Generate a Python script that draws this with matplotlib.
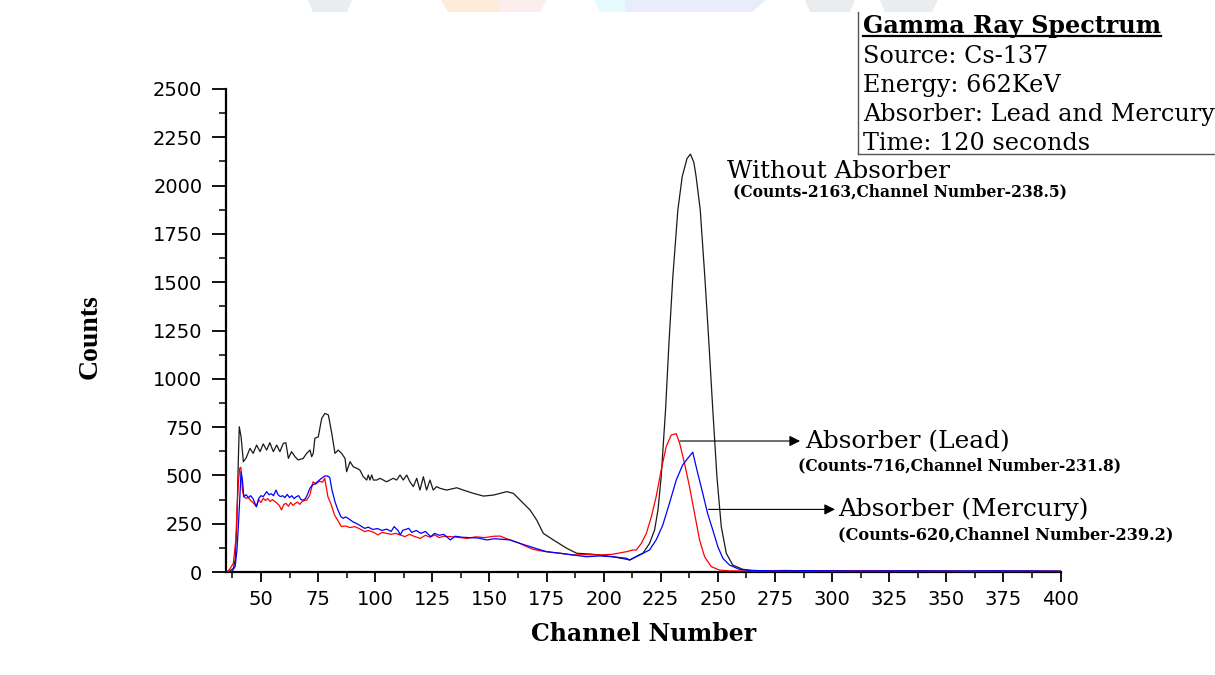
import matplotlib
matplotlib.use("Agg")
import matplotlib.pyplot as plt
from matplotlib.lines import Line2D
from matplotlib.patches import Polygon
from matplotlib.ticker import MultipleLocator

# ---------------- data ----------------
ch_black = [35, 36, 37.9, 38.7, 39.4, 40.1, 40.5, 41.3, 42.3, 43.5, 45.2, 46.6, 48.1, 49.6, 51, 52.5,
            53.9, 55.4, 56.9, 58.3, 59.8, 60.9, 62, 63.4, 64.9, 66.3, 68.5, 70, 71.5, 72.2, 72.9,
            73.6, 75.1, 76.6, 78, 79.5, 81, 82.4, 83.8, 85.3, 86.8, 87.5, 89, 90.4, 91.9, 93.3,
            94.8, 96.3, 97, 97.7, 98.5, 99.2, 100.7, 102.1, 103.5, 105, 107.9, 109.4, 110.9, 112.3,
            113.8, 115.2, 116.7, 118.2, 119.6, 121.1, 122.5, 124, 125.4, 126.9, 128.4, 131.3,
            135.7, 138.6, 143, 147.4, 151.7, 157.6, 160.5, 163.4, 167.8, 170.7, 173.6, 178,
            183.8, 188.2, 194, 198.4, 204, 210, 211.4, 215.8, 217.2, 220.1, 222.3, 223.8, 225.2,
            227.1, 228.6, 230.3, 232.5, 234.4, 236.5, 238, 239.5, 240.5, 242.3, 244.3, 246.1,
            247.8, 249.6, 251.5, 253.7, 256.5, 260.9, 265, 270, 280, 290, 300, 310, 320, 330,
            340, 350, 360, 370, 380, 390, 400]
cnt_black = [0, 2, 19, 62, 235, 580, 752, 700, 571, 590, 640, 614, 657, 623, 663, 631,
             669, 623, 657, 623, 666, 669, 588, 623, 597, 580, 588, 614, 631, 597, 614,
             692, 700, 795, 821, 813, 718, 614, 631, 614, 588, 519, 571, 545, 537, 528,
             493, 476, 502, 476, 502, 476, 476, 485, 476, 467, 485, 476, 502, 476,
             502, 467, 442, 485, 424, 493, 424, 476, 424, 442, 433, 424,
             436, 424, 407, 393, 398, 416, 407, 373, 321, 269, 200, 166,
             123, 97, 93, 88, 79, 66, 62, 90, 97, 148, 217, 321, 493,
             838, 1184, 1528, 1874, 2046, 2140, 2163, 2120, 2046, 1874, 1528, 1184,
             838, 493, 235, 97, 36, 14, 8, 6, 8, 5, 7, 6, 5, 6,
             6, 5, 4, 6, 5, 5, 4]

ch_lead = [35, 36.3, 37.9, 39, 39.5, 40.1, 40.7, 41.2, 41.9, 42.5, 43.5, 44.5, 45.5, 46.5, 48,
           49, 50, 51, 52, 53, 54, 55, 56.6, 58, 59, 60, 61, 62, 63, 64, 65, 66, 67, 68, 69,
           70, 71.4, 72.8, 74, 75.5, 77, 77.9, 79.3, 80.8, 82.2, 83.5, 85.2, 87, 89, 91, 93,
           95.4, 97, 99.4, 101.2, 103, 105, 107, 109, 111, 113, 115, 117, 119.7, 122, 124,
           126, 128, 130, 132.9, 136, 140.2, 144, 148, 151.8, 154.7, 157, 160.5, 163, 166.3,
           169, 172, 175.1, 180.9, 186.7, 192, 198.3, 204, 210, 212.9, 214.3, 216.5, 218.7,
           220.9, 223, 225.2, 227.4, 229.6, 231.8, 233.3, 235.4, 237.6, 239.8, 242, 244.2,
           247.1, 250.7, 255, 265, 280, 300, 320, 340, 360, 380, 400]
cnt_lead = [0, 14, 45, 166, 321, 459, 537, 542, 424, 390, 381, 385, 370, 360, 338,
            375, 360, 382, 370, 380, 365, 375, 360, 345, 321, 350, 355, 340, 360, 345, 355, 362, 350, 365, 370,
            372, 398, 467, 455, 470, 465, 485, 390, 347, 295, 270, 235, 238, 230, 235, 225,
            209, 215, 205, 192, 205, 200, 195, 200, 192, 183, 195, 185, 174, 190, 180,
            192, 178, 185, 183, 180, 174, 182, 178, 185, 186, 175, 160, 150, 131,
            118, 110, 105, 97, 88, 90, 88, 92, 105, 114, 114, 148, 200,
            286, 390, 528, 649, 709, 716, 666, 563, 442, 304, 166, 79,
            28, 10, 6, 5, 6, 5, 6, 5, 4, 5, 4]

ch_merc = [35, 37.2, 38.7, 39.5, 40.1, 40.7, 41.3, 41.9, 42.5, 43.5, 44.5, 45.5, 46.5, 48, 49,
           50, 51, 52.5, 53.5, 54.5, 55.5, 56.6, 57.5, 58.5, 59.5, 60.5, 61.5, 62.5, 63.5, 64.5,
           65.5, 66.5, 67.5, 68.5, 69.5, 70.5, 71.4, 72.5, 73.5, 75, 76.5, 78, 79.1, 80.1, 81.1,
           82.5, 83.7, 85, 86, 87, 88.5, 90.2, 92, 93.5, 95.4, 97, 99, 101, 103, 105, 107,
           108.3, 110, 111, 112, 114.7, 116, 118, 120, 122, 124.3, 126, 128, 130, 132.9, 135,
           138, 141, 145, 148.9, 152, 155, 158.9, 163.4, 169.2, 175.1, 181, 186.7, 192.5, 198.3,
           204, 210, 211.4, 215.8, 220.1, 223, 225.9, 228.8, 231.8, 234.6, 236.8, 239, 241.2,
           243.4, 245.5, 247.8, 250, 252.2, 255.1, 259.4, 263.8, 275, 290, 310, 330, 350, 370,
           390, 400]
cnt_merc = [0, 2, 28, 114, 235, 373, 519, 476, 390, 400, 385, 395, 380, 338, 380,
            395, 390, 416, 400, 405, 395, 424, 400, 390, 395, 385, 402, 385, 395, 380,
            390, 395, 375, 372, 380, 405, 433, 450, 455, 470, 485, 497, 497, 490, 424,
            360, 321, 286, 278, 285, 275, 260, 250, 240, 226, 232, 220, 225, 215, 222, 210,
            235, 215, 192, 215, 226, 205, 215, 200, 210, 183, 200, 190, 195, 166, 185,
            180, 178, 176, 166, 172, 170, 166, 148, 126, 105, 97, 88, 79, 83,
            79, 71, 62, 88, 114, 166, 243, 355, 476, 554, 588, 620, 511,
            407, 304, 217, 131, 71, 36, 14, 8, 6, 7, 5, 6, 5, 6,
            5, 4]

x_ticks = [50, 75, 100, 125, 150, 175, 200, 225, 250, 275, 300, 325, 350, 375, 400]
y_ticks = [0, 250, 500, 750, 1000, 1250, 1500, 1750, 2000, 2250, 2500]

info_title = "Gamma Ray Spectrum"
info_lines = ["Source: Cs-137", "Energy: 662KeV", "Absorber: Lead and Mercury", "Time: 120 seconds"]

# annotation anchor points (data coords)
lead_arrow = ((233.4, 678), (286, 678))
merc_arrow = ((245.9, 324), (301.3, 324))

# ---------------- figure ----------------
W, H = 1215, 675
fig = plt.figure(figsize=(W / 100, H / 100), dpi=100)
fig.patch.set_facecolor("white")


def fx(x):
    return x / W


def fy(y):
    return 1 - y / H


# faint watermark remnants along the top edge
wm = [
    ([308, 352, 347, 313], "#eaedef"),
    ([441, 500, 500, 448], "#fdecd9"),
    ([500, 547, 540, 500], "#fdeeee"),
    ([594, 625, 625, 600], "#e5fbfd"),
    ([625, 766, 752, 625], "#e8ecfb"),
    ([805, 855, 850, 810], "#eaedef"),
    ([880, 938, 932, 885], "#eaedef"),
]
for xs, c in wm:
    poly = Polygon([(fx(xs[0]), fy(0)), (fx(xs[1]), fy(0)), (fx(xs[2]), fy(12)), (fx(xs[3]), fy(12))],
                   closed=True, transform=fig.transFigure, facecolor=c, edgecolor="none", zorder=0)
    fig.add_artist(poly)

ax = fig.add_axes([fx(226), 1 - 572 / H, (1060.5 - 226) / W, 483 / H])
ax.set_facecolor("none")

ax.plot(ch_black, cnt_black, color="#1a1a1a", lw=0.9, zorder=3)
ax.plot(ch_lead, cnt_lead, color="#ff0000", lw=0.9, zorder=4)
ax.plot(ch_merc, cnt_merc, color="#0000ff", lw=0.9, zorder=5)

ax.set_xlim(34.7, 400)
ax.set_ylim(0, 2500)
ax.set_xticks(x_ticks)
ax.set_yticks(y_ticks)
ax.xaxis.set_minor_locator(MultipleLocator(12.5))
ax.yaxis.set_minor_locator(MultipleLocator(125))

for s in ("top", "right"):
    ax.spines[s].set_visible(False)
for s in ("left", "bottom"):
    ax.spines[s].set_linewidth(1.6)
    ax.spines[s].set_color("black")

ax.tick_params(axis="x", which="major", length=7, width=1.3, direction="out", pad=6,
               labelsize=14, colors="black")
ax.tick_params(axis="x", which="minor", length=4, width=1.1, direction="out")
ax.tick_params(axis="y", which="major", length=10, width=1.3, direction="out", pad=7,
               labelsize=14, colors="black")
ax.tick_params(axis="y", which="minor", length=5, width=1.1, direction="out")
for lab in ax.get_xticklabels() + ax.get_yticklabels():
    lab.set_family("DejaVu Sans")

ax.set_xlabel("Channel Number", family="DejaVu Serif", fontweight="bold", fontsize=17)
ax.xaxis.set_label_coords(0.5, (572 - 641) / 483)
ax.xaxis.label.set_verticalalignment("baseline")
ax.set_ylabel("Counts", family="Liberation Serif", fontweight="bold", fontsize=20)
ax.yaxis.set_label_coords((90 - 226) / 834.5, (572 - 337) / 483)
ax.yaxis.label.set_verticalalignment("center")
ax.yaxis.label.set_horizontalalignment("center")

# annotations
serif = "DejaVu Serif"
fig.text(fx(727), fy(178), "Without Absorber", family=serif, fontsize=17.8, va="baseline")
fig.text(fx(733), fy(196), "(Counts-2163,Channel Number-238.5)", family=serif, fontweight="bold",
         fontsize=11.2, va="baseline")

arrowprops = dict(arrowstyle="-|>", color="black", lw=0.8, mutation_scale=16, shrinkA=0, shrinkB=0)
ax.annotate("", xy=lead_arrow[1], xytext=lead_arrow[0], arrowprops=arrowprops, zorder=6)
ax.annotate("", xy=merc_arrow[1], xytext=merc_arrow[0], arrowprops=arrowprops, zorder=6)

fig.text(fx(805), fy(448), "Absorber (Lead)", family=serif, fontsize=17.8, va="baseline")
fig.text(fx(798), fy(470), "(Counts-716,Channel Number-231.8)", family=serif, fontweight="bold",
         fontsize=11.2, va="baseline")
fig.text(fx(838), fy(516), "Absorber (Mercury)", family=serif, fontsize=17.8, va="baseline")
fig.text(fx(838), fy(539), "(Counts-620,Channel Number-239.2)", family=serif, fontweight="bold",
         fontsize=11.6, va="baseline")

# info box
fig.add_artist(Line2D([fx(858), fx(858)], [fy(12), fy(154)], color="#555555", lw=1.0,
                      transform=fig.transFigure))
fig.add_artist(Line2D([fx(858), fx(1215)], [fy(154), fy(154)], color="#555555", lw=1.0,
                      transform=fig.transFigure))
title = fig.text(fx(863), fy(33), info_title, family=serif, fontweight="bold", fontsize=17.2,
                 va="baseline")
baselines = [63, 92, 121, 150]
for s, b in zip(info_lines, baselines):
    fig.text(fx(863), fy(b), s, family=serif, fontsize=17.2, va="baseline")

fig.canvas.draw()
bb = title.get_window_extent()
fig.add_artist(Line2D([bb.x0 / W, bb.x1 / W], [fy(36), fy(36)], color="black", lw=1.6,
                      transform=fig.transFigure))

fig.savefig("out.png", dpi=100, facecolor="white")
